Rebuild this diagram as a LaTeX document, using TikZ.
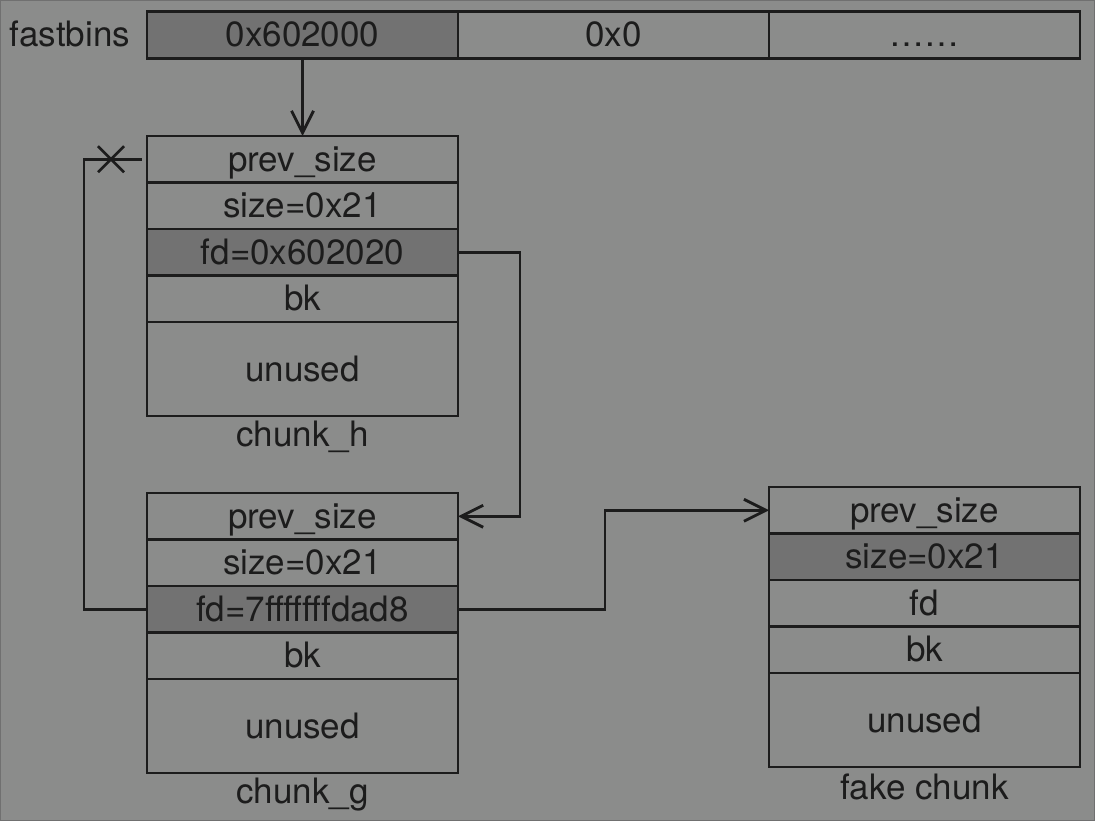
\documentclass[tikz,border=0pt]{standalone}
\usepackage{fontspec}
\setmainfont{TeX Gyre Heros}
\usetikzlibrary{arrows.meta}
\definecolor{bg}{HTML}{8B8C8B}
\definecolor{hl}{HTML}{727272}
\definecolor{ink}{HTML}{1C1C1C}
\definecolor{frame}{HTML}{707070}
\tikzset{
  cell/.style={draw=ink, line width=2.8pt, rectangle, inner sep=0pt, outer sep=0pt,
    minimum width=311pt, minimum height=46.5pt, text=ink,
    font=\fontsize{35}{40}\selectfont, text height=30pt, text depth=6pt},
  big/.style={cell, minimum height=94pt},
  dark/.style={fill=hl},
  lbl/.style={inner sep=0pt, text=ink, font=\fontsize{35}{40}\selectfont, text height=30pt, text depth=6pt},
  link/.style={draw=ink, line width=2.8pt},
  arr/.style={link, -{Straight Barb[length=22pt,width=22pt,line width=2.8pt]}},
}
\begin{document}
\begin{tikzpicture}[x=1pt,y=-1pt]
\fill[bg] (0,0) rectangle (1095,821);
\draw[frame, line width=1pt] (0.5,0.5) rectangle (1094.5,820.5);
\useasboundingbox (0,0) rectangle (1095,821);

% fastbins
\node[lbl] (fbl) at (70,35) {fastbins};
\node[cell,dark] (fb1) at (302.5,35) {0x602000};
\node[cell] (fb2) at (613.5,35) {0x0};
\node[cell] (fb3) at (924.5,35) {……};

% chunk_h
\node[cell] (hprev) at (302.5,159.25) {prev\_size};
\node[cell] (hsize) at (302.5,205.75) {size=0x21};
\node[cell,dark] (hfd) at (302.5,252.25) {fd=0x602020};
\node[cell] (hbk) at (302.5,298.75) {bk};
\node[big] (hun) at (302.5,369) {unused};
\node[lbl] (hlab) at (302.5,434) {chunk\_h};

% chunk_g
\node[cell] (gprev) at (302.5,516.25) {prev\_size};
\node[cell] (gsize) at (302.5,562.75) {size=0x21};
\node[cell,dark] (gfd) at (302.5,609.25) {fd=7fffffffdad8};
\node[cell] (gbk) at (302.5,655.75) {bk};
\node[big] (gun) at (302.5,726) {unused};
\node[lbl] (glab) at (302.5,791) {chunk\_g};

% fake chunk
\node[cell] (fprev) at (924.5,510.25) {prev\_size};
\node[cell,dark] (fsize) at (924.5,556.75) {size=0x21};
\node[cell] (ffd) at (924.5,603.25) {fd};
\node[cell] (fbk) at (924.5,649.75) {bk};
\node[big] (fun) at (924.5,720) {unused};
\node[lbl] (flab) at (924.5,787) {fake chunk};

% connectors
\draw[arr] (fb1.south) -- (hprev.north);
\draw[arr] (hfd.east) -- ++(62,0) |- (gprev.east);
\draw[arr] (gfd.east) -- ++(147,0) |- (fprev.west);
\coordinate (xm) at (111,159.25);
\coordinate (hend) at (142,159.25);
\draw[link, line join=miter] (gfd.west) -- ++(-63,0) |- (hend);
\draw[link] (xm) ++(-13,-13) -- ++(26,26);
\draw[link] (xm) ++(-13,13) -- ++(26,-26);
\end{tikzpicture}
\end{document}
